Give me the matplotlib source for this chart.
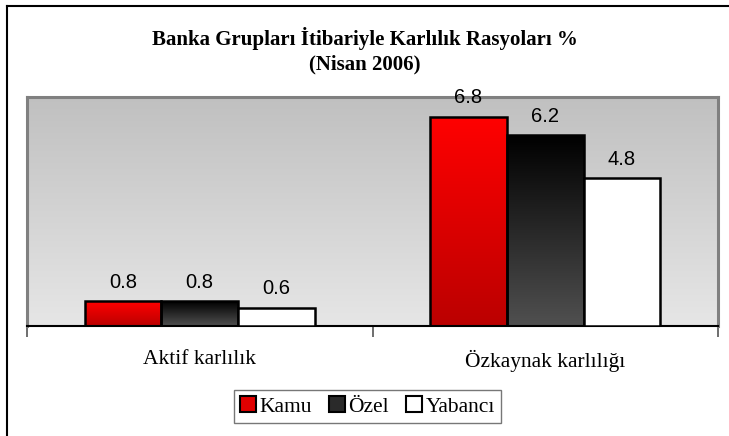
import numpy as np
import matplotlib.pyplot as plt
from matplotlib.patches import Patch
from matplotlib.lines import Line2D
from matplotlib.colors import LinearSegmentedColormap

categories = ['Aktif karlılık', 'Özkaynak karlılığı']
groups = ['Kamu', 'Özel', 'Yabancı']
kamu = [0.8, 6.8]
ozel = [0.8, 6.2]
yabanci = [0.6, 4.8]

serif = ['Liberation Serif', 'DejaVu Serif']
sans = ['Liberation Sans', 'DejaVu Sans']

fig = plt.figure(figsize=(7.29, 4.36), dpi=100)
W, H = 729, 436
ax = fig.add_axes([27 / W, 1 - 326 / H, (718 - 27) / W, (326 - 97) / H])

# outer chart border (cut off at right and bottom like the source)
fig.add_artist(Line2D([7 / W, 1.0], [1 - 6.5 / H, 1 - 6.5 / H], color='black', lw=1.5))
fig.add_artist(Line2D([7 / W, 7 / W], [1 - 6.5 / H, 0.0], color='black', lw=1.5))

ymax = 7.45
x = np.arange(len(categories))
bw = 0.222

# background gradient of the plot area (darker at top)
bg = np.linspace(0, 1, 256).reshape(-1, 1)
bg_cmap = LinearSegmentedColormap.from_list('bg', ['#c0c0c0', '#e6e6e6'])
ax.imshow(bg, cmap=bg_cmap, extent=[-0.5, 1.5, 0, ymax], aspect='auto', zorder=0)

series = [kamu, ozel, yabanci]
grads = [('#ff0000', '#bb0000'), ('#000000', '#505050'), (None, None)]
for i, (vals, (top, bottom)) in enumerate(zip(series, grads)):
    pos = x + (i - 1) * bw
    bars = ax.bar(pos, vals, bw, facecolor='white' if top is None else 'none',
                  edgecolor='black', linewidth=1.8, zorder=3)
    for b, v in zip(bars, vals):
        if top is not None:
            cm = LinearSegmentedColormap.from_list('g', [top, bottom])
            im = ax.imshow(bg, cmap=cm, aspect='auto', zorder=2,
                           extent=[b.get_x(), b.get_x() + bw, 0, v])
            im.set_clip_path(b)
        ax.text(b.get_x() + bw / 2, v + 0.62, f'{v:.1f}', ha='center', va='center',
                fontsize=14.5, family=sans, zorder=4)

ax.set_xlim(-0.5, 1.5)
ax.set_ylim(0, ymax)
ax.set_yticks([])
ax.set_xticks([-0.5, 0.5, 1.5])
ax.set_xticklabels([])
ax.set_xticks(x, minor=True)
ax.set_xticklabels(categories, minor=True, family=serif, fontsize=15.5)
ax.tick_params(axis='x', which='major', length=8, width=1.2, color='#555555')
ax.tick_params(axis='x', which='minor', length=0, pad=17)
for s in ['left', 'top', 'right']:
    ax.spines[s].set_color('#808080')
    ax.spines[s].set_linewidth(2.2)
ax.spines['bottom'].set_color('black')
ax.spines['bottom'].set_linewidth(1.5)

fig.text(0.5, 1 - 38 / H, 'Banka Grupları İtibariyle Karlılık Rasyoları %', ha='center',
         va='center', fontsize=15, fontweight='bold', family=serif)
fig.text(0.5, 1 - 64.5 / H, '(Nisan 2006)', ha='center', va='center', fontsize=15,
         fontweight='bold', family=serif)

handles = [Patch(facecolor='#e00000', edgecolor='black', linewidth=1.5),
           Patch(facecolor='#2a2a2a', edgecolor='black', linewidth=1.5),
           Patch(facecolor='white', edgecolor='black', linewidth=1.5)]
leg = fig.legend(handles, groups, loc='center', bbox_to_anchor=(367.5 / W, 1 - 406.5 / H),
                 ncol=3, frameon=True, fancybox=False, prop={'family': serif, 'size': 15.5},
                 handlelength=0.75, handleheight=0.75, handletextpad=0.15, columnspacing=0.8,
                 borderpad=0.3, borderaxespad=0)
leg.get_frame().set_edgecolor('#555555')
leg.get_frame().set_linewidth(1.0)

fig.savefig('out.png', dpi=100)
